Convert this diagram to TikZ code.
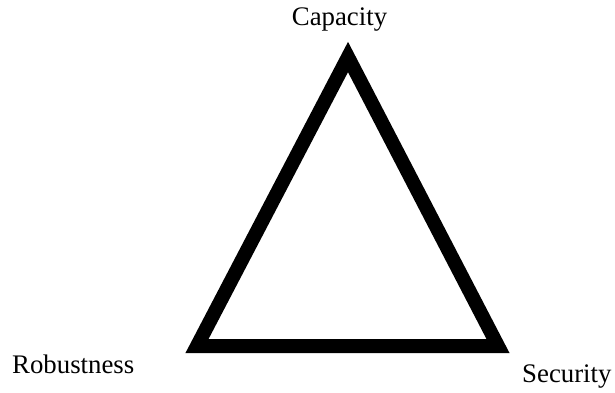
\documentclass[tikz,border=0pt]{standalone}
\usepackage{fontspec}
\setmainfont{Liberation Serif}
\begin{document}
\begin{tikzpicture}[x=1pt,y=-1pt,
  lbl/.style={inner sep=0pt,font=\fontsize{26.8}{30}\selectfont},
  tri/.style={draw=black,line width=14pt,line join=miter}]
\useasboundingbox (0,0) rectangle (615,392);
\coordinate (top) at (348,57);
\coordinate (bl) at (197,346);
\coordinate (br) at (498,346);
\draw[tri] (top) -- (bl) -- (br) -- cycle;
\node[lbl,anchor=base] (cap) at (339.5,25) {Capacity};
\node[lbl,anchor=base west] (rob) at (12,373) {Robustness};
\node[lbl,anchor=base west] (sec) at (522,382) {Security};
\end{tikzpicture}
\end{document}
